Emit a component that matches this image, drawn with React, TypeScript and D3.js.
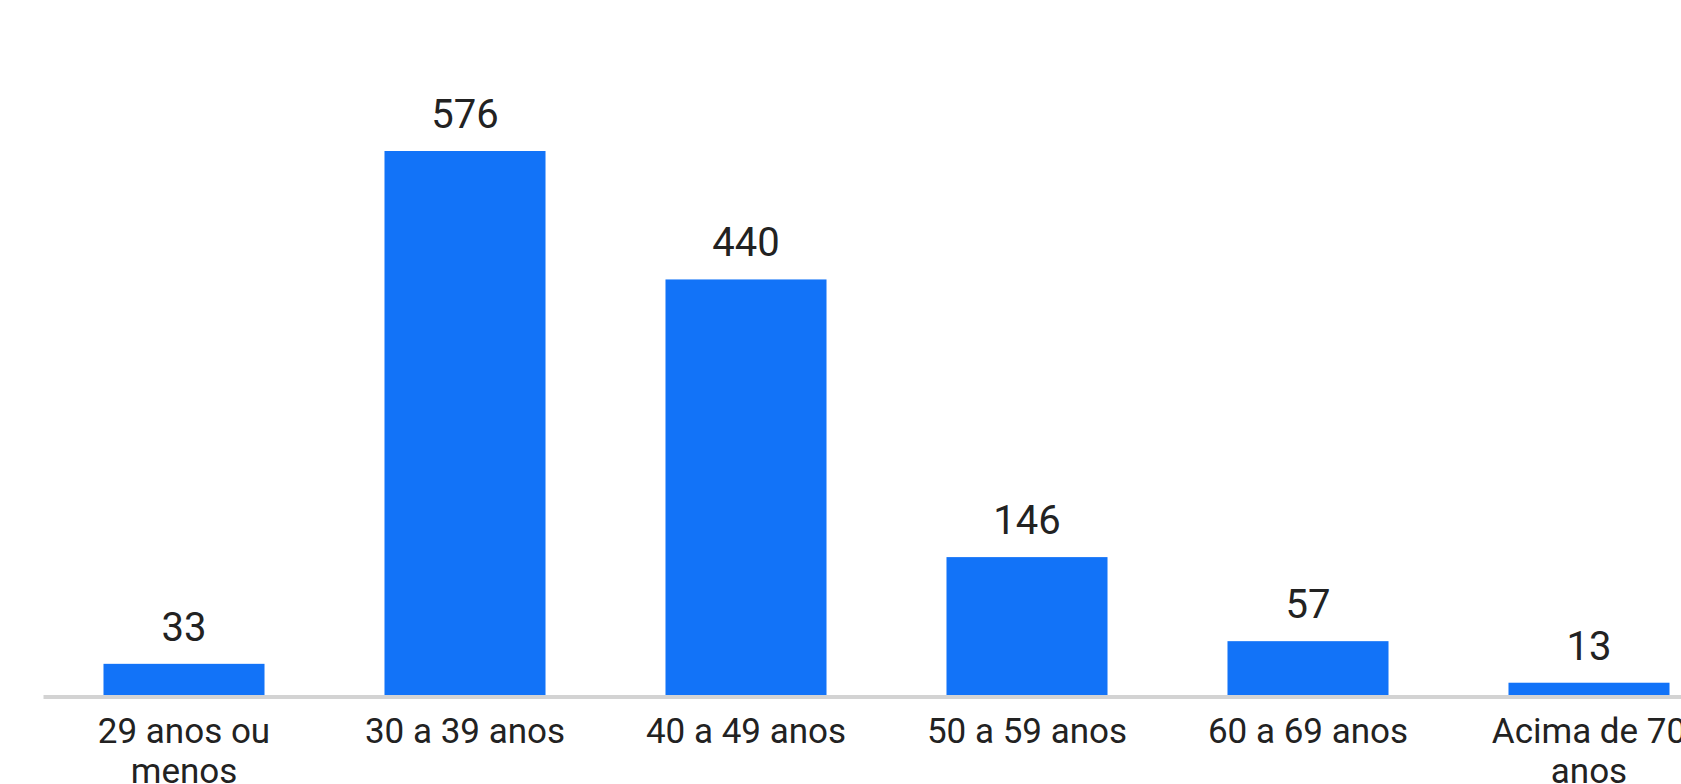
import React, { useEffect, useRef } from 'react';
import { select, scaleBand, scaleLinear } from 'd3';

const categories = [
  '29 anos ou menos',
  '30 a 39 anos',
  '40 a 49 anos',
  '50 a 59 anos',
  '60 a 69 anos',
  'Acima de 70 anos',
];
const counts = [33, 576, 440, 146, 57, 13];

const WIDTH = 1681;
const HEIGHT = 784;

const AgeBars: React.FC = () => {
  const svgRef = useRef<SVGSVGElement>(null);

  useEffect(() => {
    if (!svgRef.current) return;
    const svg = select(svgRef.current);
    svg.selectAll('*').remove();

    const baseY = 695;
    const left = 43.5;
    const step = 281;

    const x = scaleBand<string>()
      .domain(categories)
      .range([left, left + step * categories.length])
      .paddingInner(0.427)
      .paddingOuter(0.2135);

    const y = scaleLinear().domain([0, 576]).range([baseY, 151]);

    svg.append('rect')
      .attr('width', WIDTH)
      .attr('height', HEIGHT)
      .attr('fill', '#ffffff');

    // baseline
    svg.append('line')
      .attr('x1', left)
      .attr('x2', WIDTH)
      .attr('y1', baseY + 2)
      .attr('y2', baseY + 2)
      .attr('stroke', '#d3d3d3')
      .attr('stroke-width', 4);

    const g = svg.append('g');

    g.selectAll('rect.bar')
      .data(counts)
      .join('rect')
      .attr('class', 'bar')
      .attr('x', (_, i) => x(categories[i])!)
      .attr('width', x.bandwidth())
      .attr('y', d => y(d))
      .attr('height', d => baseY - y(d))
      .attr('fill', '#1273f8');

    // value labels
    g.selectAll('text.value')
      .data(counts)
      .join('text')
      .attr('class', 'value')
      .attr('x', (_, i) => x(categories[i])! + x.bandwidth() / 2)
      .attr('y', d => y(d) - 23)
      .attr('text-anchor', 'middle')
      .style('font-family', 'Roboto, sans-serif')
      .style('font-size', '40px')
      .style('fill', '#222222')
      .text(d => d);

    // category labels, wrapped to fit the band
    const maxW = step * 0.85;
    categories.forEach(cat => {
      const cx = x(cat)! + x.bandwidth() / 2;
      const text = svg.append('text')
        .attr('x', cx)
        .attr('y', baseY + 48)
        .attr('text-anchor', 'middle')
        .style('font-family', 'Roboto, sans-serif')
        .style('font-size', '35px')
        .style('fill', '#222222');

      const words = cat.split(' ');
      let line: string[] = [];
      let lineNo = 0;
      let tspan = text.append('tspan').attr('x', cx).attr('dy', 0);
      words.forEach(w => {
        line.push(w);
        tspan.text(line.join(' '));
        if ((tspan.node() as SVGTSpanElement).getComputedTextLength() > maxW && line.length > 1) {
          line.pop();
          tspan.text(line.join(' '));
          line = [w];
          lineNo += 1;
          tspan = text.append('tspan').attr('x', cx).attr('dy', '1.15em').text(w);
        }
      });
    });
  }, []);

  return (
    <svg
      ref={svgRef}
      width={WIDTH}
      height={HEIGHT}
      style={{ position: 'absolute', left: 0, top: 0, display: 'block' }}
    />
  );
};

export default function App() {
  return <AgeBars />;
}
